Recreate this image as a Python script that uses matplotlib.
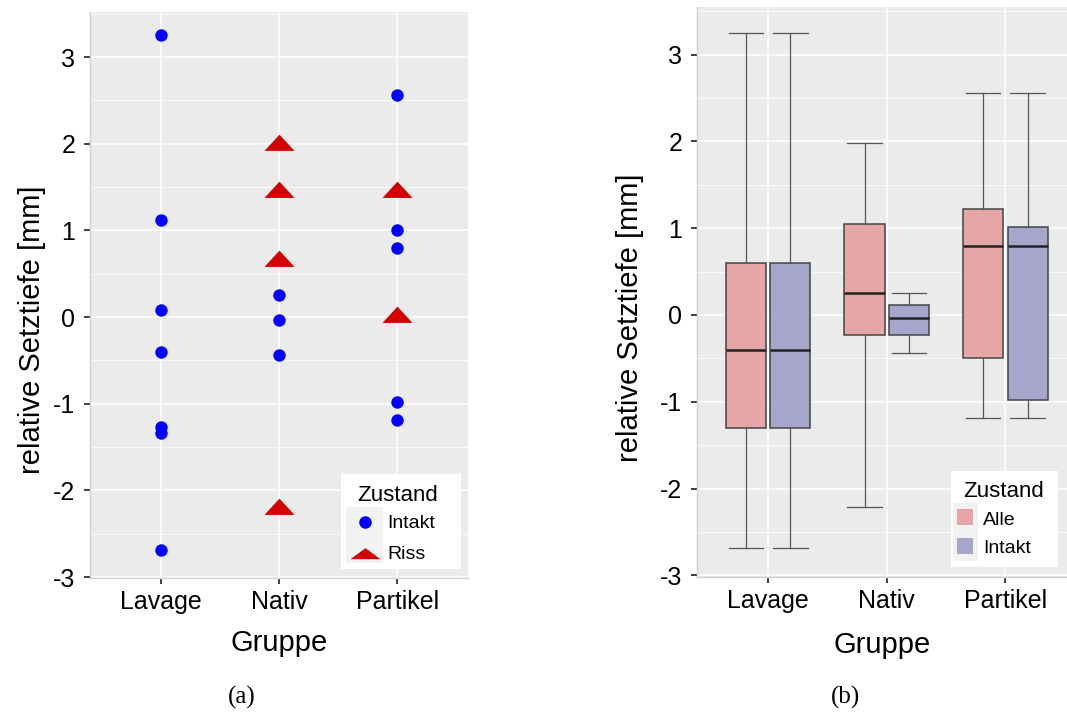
import matplotlib
matplotlib.use("Agg")
import matplotlib.pyplot as plt
import numpy as np
from matplotlib.patches import Rectangle
from matplotlib.lines import Line2D

plt.rcParams['font.family'] = ['Liberation Sans', 'DejaVu Sans']
plt.rcParams['axes.unicode_minus'] = False

# ---------------- data ----------------
groups = ['Lavage', 'Nativ', 'Partikel']
lavage_intakt = [3.25, 1.12, 0.08, -0.40, -1.27, -1.34, -2.69]
lavage_riss = []
nativ_intakt = [0.25, -0.03, -0.44]
nativ_riss = [1.98, 1.44, 0.65, -2.21]
partikel_intakt = [2.56, 1.01, 0.80, -0.98, -1.19]
partikel_riss = [1.44, 0.00]
yticks = [-3, -2, -1, 0, 1, 2, 3]
ytick_labels = ['-3', '-2', '-1', '0', '1', '2', '3']
legend_a = ['Intakt', 'Riss']
legend_b = ['Alle', 'Intakt']
legend_title = 'Zustand'

intakt = [lavage_intakt, nativ_intakt, partikel_intakt]
riss = [lavage_riss, nativ_riss, partikel_riss]
alle = [i + r for i, r in zip(intakt, riss)]

W, H = 1067, 713
fig = plt.figure(figsize=(W / 100, H / 100), dpi=100)

def fx(x):
    return x / W

def fy(y):
    return 1 - y / H

PANEL = '#EBEBEB'
BLUE = '#0000FF'
RED = '#D20000'
PINK = '#E6A6A6'
LILAC = '#A6A6CC'

# triangle marker (centroid-centred, flat like the original)
tri = [(-1.0, -0.362), (1.0, -0.362), (0.0, 0.724), (-1.0, -0.362)]
tri_leg = [(-1.0, -0.245), (1.0, -0.245), (0.0, 0.49), (-1.0, -0.245)]


def style_axes(ax, ylim, xlim):
    ax.set_facecolor(PANEL)
    ax.set_yticks(yticks)
    ax.set_yticklabels(ytick_labels)
    ax.set_yticks(np.arange(-2.5, 4.0, 1.0), minor=True)
    ax.set_xticks(range(1, len(groups) + 1))
    ax.set_xticklabels(groups)
    ax.set_xlim(*xlim)
    ax.set_ylim(*ylim)
    ax.grid(which='major', color='white', lw=1.1)
    ax.grid(which='minor', axis='y', color='white', lw=0.55)
    ax.set_axisbelow(True)
    ax.tick_params(axis='both', which='major', direction='out', length=4.5, width=1.3,
                   color='#333333', labelsize=18, labelcolor='black')
    ax.tick_params(axis='y', pad=6)
    ax.tick_params(axis='x', pad=4)
    ax.tick_params(which='minor', length=0)
    for s in ['top', 'right']:
        ax.spines[s].set_visible(False)
    for s in ['left', 'bottom']:
        ax.spines[s].set_color('#D0D0D0')
        ax.spines[s].set_linewidth(1.0)


# ---------------- panel (a) ----------------
ax1 = fig.add_axes([fx(90), fy(578), fx(378), 566 / H])
for k, vals in enumerate(intakt):
    if vals:
        ax1.scatter([k + 1] * len(vals), vals, s=80, color=BLUE, linewidths=0, zorder=3)
for k, vals in enumerate(riss):
    if vals:
        ax1.scatter([k + 1] * len(vals), vals, s=467, marker=tri, color=RED, linewidths=0, zorder=3)
style_axes(ax1, (-3.01, 3.52), (0.4, 3.6))

# ---------------- panel (b) ----------------
ax2 = fig.add_axes([fx(697), fy(577), fx(370), 570 / H])
off = 0.1875
bw = 0.3375
common = dict(widths=bw, patch_artist=True, showfliers=False, whis=(0, 100),
              capwidths=0.29,
              whiskerprops=dict(color='#555555', lw=0.9),
              capprops=dict(color='#555555', lw=0.9),
              medianprops=dict(color='#222222', lw=1.8))
ax2.boxplot(alle, positions=np.arange(1, 4) - off,
            boxprops=dict(facecolor=PINK, edgecolor='#444444', lw=1.1), **common)
ax2.boxplot(intakt, positions=np.arange(1, 4) + off,
            boxprops=dict(facecolor=LILAC, edgecolor='#444444', lw=1.1), **common)
style_axes(ax2, (-3.02, 3.55), (0.4, 3.52))

# ---------------- axis titles ----------------
fig.text(fx(32), fy(330), 'relative Setztiefe [mm]', rotation=90, ha='center', va='center', fontsize=21)
fig.text(fx(630), fy(318), 'relative Setztiefe [mm]', rotation=90, ha='center', va='center', fontsize=21)
fig.text(fx(279), fy(651), 'Gruppe', ha='center', va='baseline', fontsize=21)
fig.text(fx(882), fy(653), 'Gruppe', ha='center', va='baseline', fontsize=21)

# ---------------- captions ----------------
fig.text(fx(242), fy(697), '(a)', ha='center', va='center', fontsize=18, family='Liberation Serif')
fig.text(fx(845), fy(697), '(b)', ha='center', va='center', fontsize=18, family='Liberation Serif')

# ---------------- legend (a) ----------------
tf = fig.transFigure
fig.patches.append(Rectangle((fx(341), fy(569)), fx(120), 95 / H, transform=tf,
                             facecolor='white', edgecolor='none', zorder=5))
fig.patches.append(Rectangle((fx(346), fy(563)), fx(37), 56 / H, transform=tf,
                             facecolor='#F2F2F2', edgecolor='none', zorder=6))
fig.text(fx(357), fy(501), legend_title, ha='left', va='baseline', fontsize=16, zorder=7)
fig.lines.append(Line2D([fx(364.5)], [fy(522)], transform=tf, marker='o', markersize=9,
                        color=BLUE, markeredgewidth=0, linestyle='none', zorder=7))
fig.lines.append(Line2D([fx(364.5)], [fy(555)], transform=tf, marker=tri_leg, markersize=21.6,
                        color=RED, markeredgewidth=0, linestyle='none', zorder=7))
fig.text(fx(387), fy(528), legend_a[0], ha='left', va='baseline', fontsize=14, zorder=7)
fig.text(fx(387), fy(559), legend_a[1], ha='left', va='baseline', fontsize=14, zorder=7)

# ---------------- legend (b) ----------------
fig.patches.append(Rectangle((fx(951), fy(567)), fx(107), 96 / H, transform=tf,
                             facecolor='white', edgecolor='none', zorder=5))
fig.patches.append(Rectangle((fx(953), fy(561)), fx(25), 58 / H, transform=tf,
                             facecolor='#F2F2F2', edgecolor='none', zorder=6))
fig.text(fx(963), fy(497), legend_title, ha='left', va='baseline', fontsize=16, zorder=7)
fig.patches.append(Rectangle((fx(957), fy(525)), fx(16), 16 / H, transform=tf,
                             facecolor=PINK, edgecolor='none', zorder=7))
fig.patches.append(Rectangle((fx(957), fy(554)), fx(16), 16 / H, transform=tf,
                             facecolor=LILAC, edgecolor='none', zorder=7))
fig.text(fx(983), fy(525), legend_b[0], ha='left', va='baseline', fontsize=14, zorder=7)
fig.text(fx(983), fy(553), legend_b[1], ha='left', va='baseline', fontsize=14, zorder=7)

fig.savefig('out.png', dpi=100, facecolor='white')
